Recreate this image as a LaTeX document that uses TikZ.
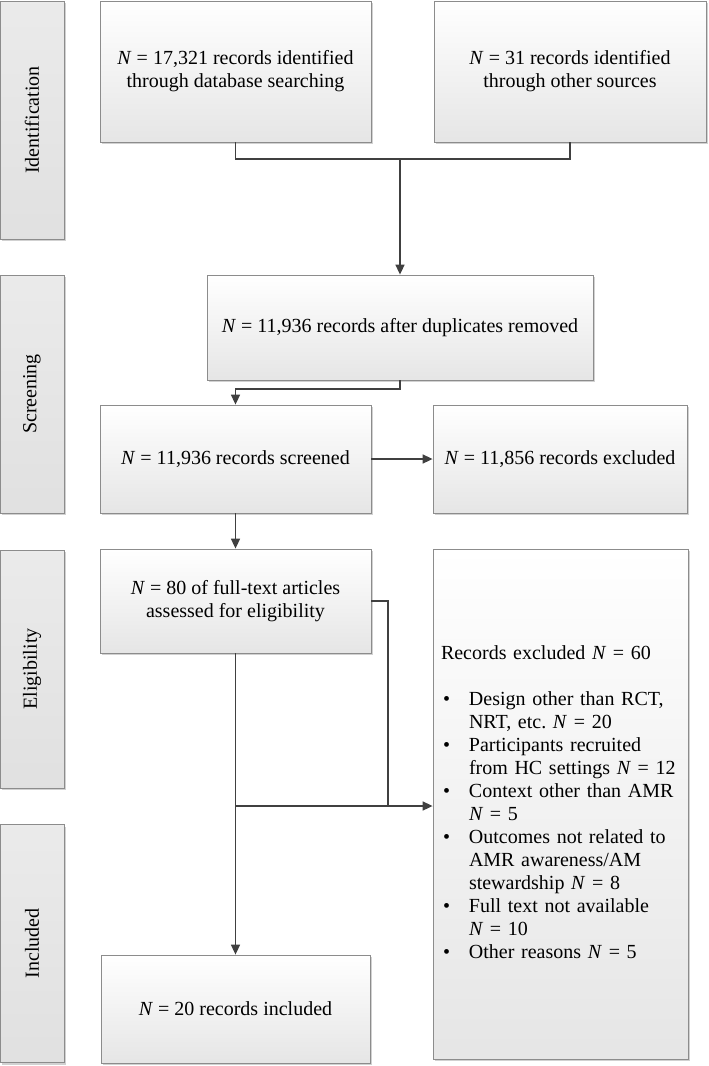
\documentclass[tikz,border=0pt]{standalone}
\usepackage{fontspec}
\usepackage{graphicx}
\setmainfont{Liberation Serif}
\usetikzlibrary{arrows.meta,shadows}
\begin{document}
\begin{tikzpicture}[x=1pt,y=-1pt,
  every node/.style={font=\fontsize{20}{23}\selectfont},
  box/.style={draw=black!45, line width=0.8pt, top color=white, bottom color=black!10,
    general shadow={fill=black!18, shadow xshift=2pt, shadow yshift=-2pt},
    inner sep=0pt, align=center},
  phase/.style={draw=black!45, line width=0.8pt, top color=black!8, bottom color=black!12,
    general shadow={fill=black!18, shadow xshift=2pt, shadow yshift=-2pt},
    minimum width=64pt, minimum height=238pt, inner sep=0pt},
  conn/.style={draw=black!75, line width=1.6pt},
  arr/.style={conn, -{Triangle[length=10pt,width=9pt]}}]
\useasboundingbox (0,0) rectangle (709,1066);

% phase labels
\node[phase] (L1) at (32,120) {\rotatebox{90}{Identification}};
\node[phase] (L2) at (32,394) {\rotatebox{90}{Screening}};
\node[phase] (L3) at (32,669) {\rotatebox{90}{Eligibility}};
\node[phase] (L4) at (32,943.5) {\rotatebox{90}{Included}};

% boxes
\node[box, minimum width=271pt, minimum height=141pt] (A) at (235.5,71.5)
  {\textit{N} = 17,321 records identified\\through database searching};
\node[box, minimum width=272pt, minimum height=141pt] (B) at (570,71.5)
  {\textit{N} = 31 records identified\\through other sources};
\node[box, minimum width=386pt, minimum height=105pt] (C) at (400,327.5)
  {\textit{N} = 11,936 records after duplicates removed};
\node[box, minimum width=271pt, minimum height=108pt] (D) at (235.5,459)
  {\textit{N} = 11,936 records screened};
\node[box, minimum width=254pt, minimum height=108pt] (E) at (560,459)
  {\textit{N} = 11,856 records excluded};
\node[box, minimum width=271pt, minimum height=104pt] (F) at (235.5,601)
  {\textit{N} = 80 of full-text articles\\assessed for eligibility};
\node[box, minimum width=255pt, minimum height=510pt, text width=239pt, inner xsep=8pt, align=left] (G) at (560.5,804)
  {\begin{tabular}{@{}p{28pt}@{}l@{}}
   \multicolumn{2}{@{}l@{}}{Records excluded \textit{N} = 60}\\
   \\
   \hspace{2pt}\textbullet & Design other than RCT,\\
    & NRT, etc.\ \textit{N} = 20\\
   \hspace{2pt}\textbullet & Participants recruited\\
    & from HC settings \textit{N} = 12\\
   \hspace{2pt}\textbullet & Context other than AMR\\
    & \textit{N} = 5\\
   \hspace{2pt}\textbullet & Outcomes not related to\\
    & AMR awareness/AM\\
    & stewardship \textit{N} = 8\\
   \hspace{2pt}\textbullet & Full text not available\\
    & \textit{N} = 10\\
   \hspace{2pt}\textbullet & Other reasons \textit{N} = 5
   \end{tabular}};
\node[box, minimum width=269pt, minimum height=108pt] (H) at (235.5,1009)
  {\textit{N} = 20 records included};

% connectors
\coordinate (j1) at (400,159);
\draw[conn] (A.south) |- (j1) -| (B.south);
\draw[arr] (j1) -- (C.north);
\coordinate (j2) at (235.5,389);
\draw[arr] (C.south) |- (j2) -- (D.north);
\draw[arr] (D.east) -- (E.west);
\draw[arr] (D.south) -- (F.north);
\coordinate (j3) at (388,806);
\coordinate (j4) at (235.5,806);
\draw[conn] (F.east) -| (j3);
\draw[arr] (j4) -- (G.west |- j4);
\draw[arr] (F.south) -- (H.north);
\end{tikzpicture}
\end{document}
